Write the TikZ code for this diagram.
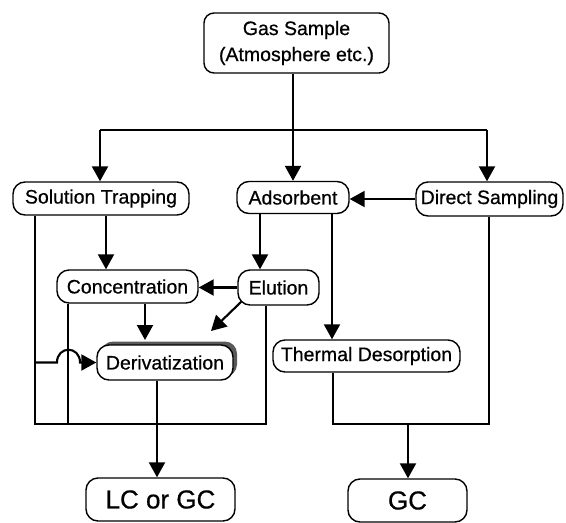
\documentclass[tikz,border=0pt]{standalone}
\usepackage{fontspec}
\setmainfont{Liberation Sans}
\newfontfamily\txtfont[FakeBold=0.6]{Liberation Sans}
\usetikzlibrary{arrows.meta,shadows,patterns}
\begin{document}
\begin{tikzpicture}[x=1pt,y=-1pt,
 box/.style={draw, line width=1.4pt, rounded corners=12pt, inner sep=0pt, fill=white, font=\txtfont\fontsize{19.5}{23}\selectfont},
 big/.style={box, font=\txtfont\fontsize{26}{30}\selectfont},
 arr/.style={line width=2.1pt, -{Triangle[length=15pt,width=16pt]}},
 ln/.style={line width=2.1pt}]
\useasboundingbox (0,0) rectangle (566,523);
% nodes
\node[box, minimum width=185pt, minimum height=60pt, align=center, rounded corners=10pt, font=\txtfont\fontsize{19.5}{26}\selectfont] (gas) at (296.5,43) {Gas Sample\\(Atmosphere etc.)};
\node[box, minimum width=176pt, minimum height=33pt] (sol) at (101,198.5) {Solution Trapping};
\node[box, minimum width=112pt, minimum height=32pt] (ads) at (293,197.5) {Adsorbent};
\node[box, minimum width=147pt, minimum height=34pt] (dir) at (489.5,199) {Direct Sampling};
\node[box, minimum width=141pt, minimum height=33pt] (conc) at (127.5,286.5) {Concentration};
\node[box, minimum width=81pt, minimum height=35pt] (elu) at (278.5,287.5) {Elution};
\node[box, minimum width=136pt, minimum height=35pt, general shadow={fill=black!65, shadow xshift=4pt, shadow yshift=3.5pt}] (deriv) at (165,362.5) {Derivatization};
\node[box, minimum width=187pt, minimum height=32pt] (therm) at (366.5,356) {Thermal Desorption};
\node[big, minimum width=149pt, minimum height=43pt] (lc) at (160.5,499.5) {LC or GC};
\node[big, minimum width=119pt, minimum height=43pt] (gc) at (407.5,500.5) {GC};
% helper coordinates
\coordinate (top) at (293,130);
\coordinate (ybot) at (0,424);
\coordinate (x35) at (35,0);
\coordinate (x68) at (68,0);
\coordinate (x100) at (100,0);
\coordinate (x106) at (106,0);
\coordinate (x145) at (145,0);
\coordinate (x157) at (157,0);
\coordinate (x260) at (260,0);
\coordinate (x266) at (266,0);
\coordinate (x332) at (332,0);
\coordinate (x333) at (333,0);
\coordinate (x408) at (408,0);
\coordinate (x487) at (487,0);
\coordinate (x489) at (489,0);
\coordinate (dtip) at (211,331);
\coordinate (dtop) at (145,340);
% connectors
\draw[arr] (gas.south -| ads.north) -- (ads.north);
\draw[ln] (x100 |- top) -- (x487 |- top);
\draw[arr] (x100 |- top) -- (sol.north -| x100);
\draw[arr] (x487 |- top) -- (dir.north -| x487);
\draw[arr] (dir.west) -- (dir.west -| ads.east);
\draw[arr] (sol.south -| x106) -- (conc.north -| x106);
\draw[arr] (ads.south -| x260) -- (elu.north -| x260);
\draw[arr] (ads.south -| x332) -- (therm.north -| x332);
\draw[arr] (elu.west) -- (elu.west -| conc.east);
\draw[arr] ([shift={(4,-4)}]elu.south west) -- (dtip);
\draw[arr] (conc.south -| x145) -- (dtop);
\draw[ln] (sol.south -| x35) -- (x35 |- ybot) -- (x266 |- ybot) -- (elu.south -| x266);
\draw[ln] (conc.south -| x68) -- (x68 |- ybot);
\draw[arr] (x35 |- deriv.west) -- ++(22,0) .. controls +(0,-17) and +(0,-17) .. ++(23,0) -- (deriv.west);
\draw[arr] (deriv.south -| x157) -- (lc.north -| x157);
\draw[ln] (therm.south -| x333) -- (x333 |- ybot) -- (x489 |- ybot) -- (dir.south -| x489);
\draw[arr] (x408 |- ybot) -- (gc.north -| x408);
\end{tikzpicture}
\end{document}
